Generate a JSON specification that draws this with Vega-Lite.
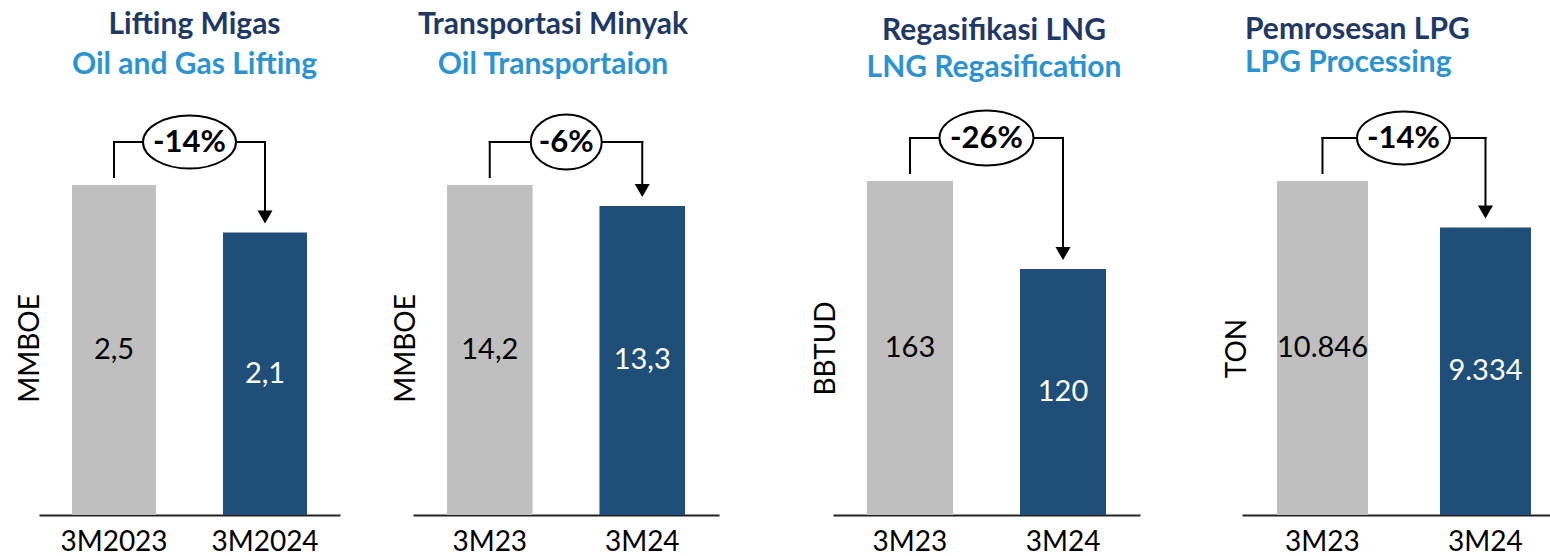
{
  "$schema": "https://vega.github.io/schema/vega-lite/v6.json",
  "background": "white",
  "padding": {"left": 16, "top": 10, "right": 0, "bottom": 0},
  "config": {
    "font": "Lato",
    "view": {"stroke": null},
    "axisX": {"domainColor": "#222222", "domainWidth": 2, "ticks": false, "labelFontSize": 28, "labelColor": "#000000", "labelAngle": 0, "labelPadding": 13, "grid": false, "labelFont": "Lato"},
    "axisY": {"labels": false, "ticks": false, "domain": false, "grid": false, "titleFontSize": 28, "titleFontWeight": "normal", "titleColor": "#000000", "titleBaseline": "alphabetic", "titleAlign": "center", "titleY": 248, "titleFont": "Lato"},
    "title": {"font": "Lato", "subtitleFont": "Lato", "fontSize": 30, "subtitleFontSize": 30, "fontWeight": "bold", "subtitleFontWeight": "bold", "color": "#1F3864", "subtitleColor": "#2B93D1", "anchor": "middle"}
  },
  "spacing": 93,
  "bounds": "full",
  "hconcat": [
    {
      "spacing": 73,
      "bounds": "flush",
      "hconcat": [
        {
          "width": 301, "height": 415,
          "title": {"text": "Lifting Migas", "subtitle": "Oil and Gas Lifting", "subtitlePadding": 10, "offset": 20, "dx": 5},
          "layer": [
            {
              "data": {"values": [{"period": "3M2023", "value": 2.5, "label": "2,5"}, {"period": "3M2024", "value": 2.14, "label": "2,1"}]},
              "layer": [
                {"mark": {"type": "bar"},
                 "encoding": {
                   "x": {"field": "period", "type": "nominal", "scale": {"domain": ["3M2023", "3M2024"], "paddingInner": 0.4437, "paddingOuter": 0.2185}, "axis": {"title": null}},
                   "y": {"field": "value", "type": "quantitative", "scale": {"domain": [0, 3.144], "nice": false}, "axis": {"title": "MMBOE", "titleX": -1}},
                   "fill": {"condition": {"test": "datum.period === '3M2024'", "value": "#1F4E79"}, "value": "#BFBFBF"}}},
                {"mark": {"type": "text", "fontSize": 29, "baseline": "middle"},
                 "encoding": {
                   "x": {"field": "period", "type": "nominal", "axis": {"title": null}},
                   "y": {"field": "value", "type": "quantitative", "stack": "zero", "bandPosition": 0.5, "axis": {"title": "MMBOE", "titleX": -1}},
                   "text": {"field": "label"},
                   "fill": {"condition": {"test": "datum.period === '3M2024'", "value": "white"}, "value": "black"}}}
              ]
            },
            {
              "data": {"values": [{"from": "3M2023", "to": "3M2024", "v0": 2.5, "v1": 2.14, "pct": "-14%"}]},
              "layer": [
                {"mark": {"type": "rule", "color": "#000000", "strokeWidth": 2, "strokeCap": "square", "yOffset": -8, "y2Offset": -43},
                 "encoding": {"x": {"field": "from", "type": "nominal", "axis": {"title": null}}, "y": {"field": "v0", "type": "quantitative", "axis": {"title": "MMBOE", "titleX": -1}}, "y2": {"field": "v0"}}},
                {"mark": {"type": "rule", "color": "#000000", "strokeWidth": 2, "strokeCap": "square", "yOffset": -43},
                 "encoding": {"x": {"field": "from", "type": "nominal", "axis": {"title": null}}, "x2": {"field": "to"}, "y": {"field": "v0", "type": "quantitative", "axis": {"title": "MMBOE", "titleX": -1}}}},
                {"mark": {"type": "rule", "color": "#000000", "strokeWidth": 2, "strokeCap": "square", "yOffset": -43, "y2Offset": -16},
                 "encoding": {"x": {"field": "to", "type": "nominal", "axis": {"title": null}}, "y": {"field": "v0", "type": "quantitative", "axis": {"title": "MMBOE", "titleX": -1}}, "y2": {"field": "v1"}}},
                {"mark": {"type": "point", "shape": "triangle-down", "size": 225, "filled": true, "color": "#000000", "opacity": 1, "yOffset": -15.5},
                 "encoding": {"x": {"field": "to", "type": "nominal", "axis": {"title": null}}, "y": {"field": "v1", "type": "quantitative", "axis": {"title": "MMBOE", "titleX": -1}}}},
                {"mark": {"type": "point", "shape": "M-1,0A1,0.57,0,1,1,1,0A1,0.57,0,1,1,-1,0Z", "size": 8649, "filled": true, "fill": "white", "stroke": "#000000", "strokeWidth": 2, "opacity": 1, "xOffset": 75.5, "yOffset": -43},
                 "encoding": {"x": {"field": "from", "type": "nominal", "axis": {"title": null}}, "y": {"field": "v0", "type": "quantitative", "axis": {"title": "MMBOE", "titleX": -1}}}},
                {"mark": {"type": "text", "fontSize": 31, "fontWeight": "bold", "color": "#000000", "baseline": "middle", "xOffset": 75.5, "yOffset": -43, "dy": 1},
                 "encoding": {"x": {"field": "from", "type": "nominal", "axis": {"title": null}}, "y": {"field": "v0", "type": "quantitative", "axis": {"title": "MMBOE", "titleX": -1}}, "text": {"field": "pct"}}}
              ]
            }
          ]
        },
        {
          "width": 306, "height": 415,
          "title": {"text": "Transportasi Minyak", "subtitle": "Oil Transportaion", "subtitlePadding": 10, "offset": 20, "dx": -13},
          "layer": [
            {
              "data": {"values": [{"period": "3M23", "value": 14.2, "label": "14,2"}, {"period": "3M24", "value": 13.3, "label": "13,3"}]},
              "layer": [
                {"mark": {"type": "bar"},
                 "encoding": {
                   "x": {"field": "period", "type": "nominal", "scale": {"domain": ["3M23", "3M24"], "paddingInner": 0.439, "paddingOuter": 0.2228}, "axis": {"title": null}},
                   "y": {"field": "value", "type": "quantitative", "scale": {"domain": [0, 17.86], "nice": false}, "axis": {"title": "MMBOE", "titleX": 1}},
                   "fill": {"condition": {"test": "datum.period === '3M24'", "value": "#1F4E79"}, "value": "#BFBFBF"}}},
                {"mark": {"type": "text", "fontSize": 29, "baseline": "middle"},
                 "encoding": {
                   "x": {"field": "period", "type": "nominal", "axis": {"title": null}},
                   "y": {"field": "value", "type": "quantitative", "stack": "zero", "bandPosition": 0.5, "axis": {"title": "MMBOE", "titleX": 1}},
                   "text": {"field": "label"},
                   "fill": {"condition": {"test": "datum.period === '3M24'", "value": "white"}, "value": "black"}}}
              ]
            },
            {
              "data": {"values": [{"from": "3M23", "to": "3M24", "v0": 14.2, "v1": 13.3, "pct": "-6%"}]},
              "layer": [
                {"mark": {"type": "rule", "color": "#000000", "strokeWidth": 2, "strokeCap": "square", "yOffset": -8, "y2Offset": -43},
                 "encoding": {"x": {"field": "from", "type": "nominal", "axis": {"title": null}}, "y": {"field": "v0", "type": "quantitative", "axis": {"title": "MMBOE", "titleX": 1}}, "y2": {"field": "v0"}}},
                {"mark": {"type": "rule", "color": "#000000", "strokeWidth": 2, "strokeCap": "square", "yOffset": -43},
                 "encoding": {"x": {"field": "from", "type": "nominal", "axis": {"title": null}}, "x2": {"field": "to"}, "y": {"field": "v0", "type": "quantitative", "axis": {"title": "MMBOE", "titleX": 1}}}},
                {"mark": {"type": "rule", "color": "#000000", "strokeWidth": 2, "strokeCap": "square", "yOffset": -43, "y2Offset": -16},
                 "encoding": {"x": {"field": "to", "type": "nominal", "axis": {"title": null}}, "y": {"field": "v0", "type": "quantitative", "axis": {"title": "MMBOE", "titleX": 1}}, "y2": {"field": "v1"}}},
                {"mark": {"type": "point", "shape": "triangle-down", "size": 225, "filled": true, "color": "#000000", "opacity": 1, "yOffset": -15.5},
                 "encoding": {"x": {"field": "to", "type": "nominal", "axis": {"title": null}}, "y": {"field": "v1", "type": "quantitative", "axis": {"title": "MMBOE", "titleX": 1}}}},
                {"mark": {"type": "point", "shape": "M-1,0A1,0.775,0,1,1,1,0A1,0.775,0,1,1,-1,0Z", "size": 5041, "filled": true, "fill": "white", "stroke": "#000000", "strokeWidth": 2, "opacity": 1, "xOffset": 76.5, "yOffset": -43},
                 "encoding": {"x": {"field": "from", "type": "nominal", "axis": {"title": null}}, "y": {"field": "v0", "type": "quantitative", "axis": {"title": "MMBOE", "titleX": 1}}}},
                {"mark": {"type": "text", "fontSize": 31, "fontWeight": "bold", "color": "#000000", "baseline": "middle", "xOffset": 76.5, "yOffset": -43, "dy": 1},
                 "encoding": {"x": {"field": "from", "type": "nominal", "axis": {"title": null}}, "y": {"field": "v0", "type": "quantitative", "axis": {"title": "MMBOE", "titleX": 1}}, "text": {"field": "pct"}}}
              ]
            }
          ]
        }
      ]
    },
    {
      "spacing": 102,
      "bounds": "flush",
      "hconcat": [
        {
          "width": 307, "height": 415,
          "title": {"text": "Regasifikasi LNG", "subtitle": "LNG Regasification", "subtitlePadding": 7, "offset": 17, "dx": 7.5},
          "layer": [
            {
              "data": {"values": [{"period": "3M23", "value": 163, "label": "163"}, {"period": "3M24", "value": 120, "label": "120"}]},
              "layer": [
                {"mark": {"type": "bar"},
                 "encoding": {
                   "x": {"field": "period", "type": "nominal", "scale": {"domain": ["3M23", "3M24"], "paddingInner": 0.438, "paddingOuter": 0.222}, "axis": {"title": null}},
                   "y": {"field": "value", "type": "quantitative", "scale": {"domain": [0, 202.5], "nice": false}, "axis": {"title": "BBTUD", "titleX": 1}},
                   "fill": {"condition": {"test": "datum.period === '3M24'", "value": "#1F4E79"}, "value": "#BFBFBF"}}},
                {"mark": {"type": "text", "fontSize": 29, "baseline": "middle"},
                 "encoding": {
                   "x": {"field": "period", "type": "nominal", "axis": {"title": null}},
                   "y": {"field": "value", "type": "quantitative", "stack": "zero", "bandPosition": 0.5, "axis": {"title": "BBTUD", "titleX": 1}},
                   "text": {"field": "label"},
                   "fill": {"condition": {"test": "datum.period === '3M24'", "value": "white"}, "value": "black"}}}
              ]
            },
            {
              "data": {"values": [{"from": "3M23", "to": "3M24", "v0": 163, "v1": 120, "pct": "-26%"}]},
              "layer": [
                {"mark": {"type": "rule", "color": "#000000", "strokeWidth": 2, "strokeCap": "square", "yOffset": -8, "y2Offset": -43},
                 "encoding": {"x": {"field": "from", "type": "nominal", "axis": {"title": null}}, "y": {"field": "v0", "type": "quantitative", "axis": {"title": "BBTUD", "titleX": 1}}, "y2": {"field": "v0"}}},
                {"mark": {"type": "rule", "color": "#000000", "strokeWidth": 2, "strokeCap": "square", "yOffset": -43},
                 "encoding": {"x": {"field": "from", "type": "nominal", "axis": {"title": null}}, "x2": {"field": "to"}, "y": {"field": "v0", "type": "quantitative", "axis": {"title": "BBTUD", "titleX": 1}}}},
                {"mark": {"type": "rule", "color": "#000000", "strokeWidth": 2, "strokeCap": "square", "yOffset": -43, "y2Offset": -16},
                 "encoding": {"x": {"field": "to", "type": "nominal", "axis": {"title": null}}, "y": {"field": "v0", "type": "quantitative", "axis": {"title": "BBTUD", "titleX": 1}}, "y2": {"field": "v1"}}},
                {"mark": {"type": "point", "shape": "triangle-down", "size": 225, "filled": true, "color": "#000000", "opacity": 1, "yOffset": -15.5},
                 "encoding": {"x": {"field": "to", "type": "nominal", "axis": {"title": null}}, "y": {"field": "v1", "type": "quantitative", "axis": {"title": "BBTUD", "titleX": 1}}}},
                {"mark": {"type": "point", "shape": "M-1,0A1,0.585,0,1,1,1,0A1,0.585,0,1,1,-1,0Z", "size": 8836, "filled": true, "fill": "white", "stroke": "#000000", "strokeWidth": 2, "opacity": 1, "xOffset": 76.5, "yOffset": -43},
                 "encoding": {"x": {"field": "from", "type": "nominal", "axis": {"title": null}}, "y": {"field": "v0", "type": "quantitative", "axis": {"title": "BBTUD", "titleX": 1}}}},
                {"mark": {"type": "text", "fontSize": 31, "fontWeight": "bold", "color": "#000000", "baseline": "middle", "xOffset": 76.5, "yOffset": -43, "dy": 1},
                 "encoding": {"x": {"field": "from", "type": "nominal", "axis": {"title": null}}, "y": {"field": "v0", "type": "quantitative", "axis": {"title": "BBTUD", "titleX": 1}}, "text": {"field": "pct"}}}
              ]
            }
          ]
        },
        {
          "width": 309, "height": 415,
          "title": {"text": "Pemrosesan LPG", "subtitle": "LPG Processing", "subtitlePadding": 3, "offset": 22, "anchor": "start", "dx": 22},
          "layer": [
            {
              "data": {"values": [{"period": "3M23", "value": 10846, "label": "10.846"}, {"period": "3M24", "value": 9334, "label": "9.334"}]},
              "layer": [
                {"mark": {"type": "bar"},
                 "encoding": {
                   "x": {"field": "period", "type": "nominal", "scale": {"domain": ["3M23", "3M24"], "paddingInner": 0.4417, "paddingOuter": 0.1687, "align": 0.636}, "axis": {"title": null}},
                   "y": {"field": "value", "type": "quantitative", "scale": {"domain": [0, 13476], "nice": false}, "axis": {"title": "TON", "titleX": 3}},
                   "fill": {"condition": {"test": "datum.period === '3M24'", "value": "#1F4E79"}, "value": "#BFBFBF"}}},
                {"mark": {"type": "text", "fontSize": 29, "baseline": "middle"},
                 "encoding": {
                   "x": {"field": "period", "type": "nominal", "axis": {"title": null}},
                   "y": {"field": "value", "type": "quantitative", "stack": "zero", "bandPosition": 0.5, "axis": {"title": "TON", "titleX": 3}},
                   "text": {"field": "label"},
                   "fill": {"condition": {"test": "datum.period === '3M24'", "value": "white"}, "value": "black"}}}
              ]
            },
            {
              "data": {"values": [{"from": "3M23", "to": "3M24", "v0": 10846, "v1": 9334, "pct": "-14%"}]},
              "layer": [
                {"mark": {"type": "rule", "color": "#000000", "strokeWidth": 2, "strokeCap": "square", "yOffset": -8, "y2Offset": -43},
                 "encoding": {"x": {"field": "from", "type": "nominal", "axis": {"title": null}}, "y": {"field": "v0", "type": "quantitative", "axis": {"title": "TON", "titleX": 3}}, "y2": {"field": "v0"}}},
                {"mark": {"type": "rule", "color": "#000000", "strokeWidth": 2, "strokeCap": "square", "yOffset": -43},
                 "encoding": {"x": {"field": "from", "type": "nominal", "axis": {"title": null}}, "x2": {"field": "to"}, "y": {"field": "v0", "type": "quantitative", "axis": {"title": "TON", "titleX": 3}}}},
                {"mark": {"type": "rule", "color": "#000000", "strokeWidth": 2, "strokeCap": "square", "yOffset": -43, "y2Offset": -16},
                 "encoding": {"x": {"field": "to", "type": "nominal", "axis": {"title": null}}, "y": {"field": "v0", "type": "quantitative", "axis": {"title": "TON", "titleX": 3}}, "y2": {"field": "v1"}}},
                {"mark": {"type": "point", "shape": "triangle-down", "size": 225, "filled": true, "color": "#000000", "opacity": 1, "yOffset": -15.5},
                 "encoding": {"x": {"field": "to", "type": "nominal", "axis": {"title": null}}, "y": {"field": "v1", "type": "quantitative", "axis": {"title": "TON", "titleX": 3}}}},
                {"mark": {"type": "point", "shape": "M-1,0A1,0.57,0,1,1,1,0A1,0.57,0,1,1,-1,0Z", "size": 8649, "filled": true, "fill": "white", "stroke": "#000000", "strokeWidth": 2, "opacity": 1, "xOffset": 81, "yOffset": -43},
                 "encoding": {"x": {"field": "from", "type": "nominal", "axis": {"title": null}}, "y": {"field": "v0", "type": "quantitative", "axis": {"title": "TON", "titleX": 3}}}},
                {"mark": {"type": "text", "fontSize": 31, "fontWeight": "bold", "color": "#000000", "baseline": "middle", "xOffset": 81, "yOffset": -43, "dy": 1},
                 "encoding": {"x": {"field": "from", "type": "nominal", "axis": {"title": null}}, "y": {"field": "v0", "type": "quantitative", "axis": {"title": "TON", "titleX": 3}}, "text": {"field": "pct"}}}
              ]
            }
          ]
        }
      ]
    }
  ]
}
